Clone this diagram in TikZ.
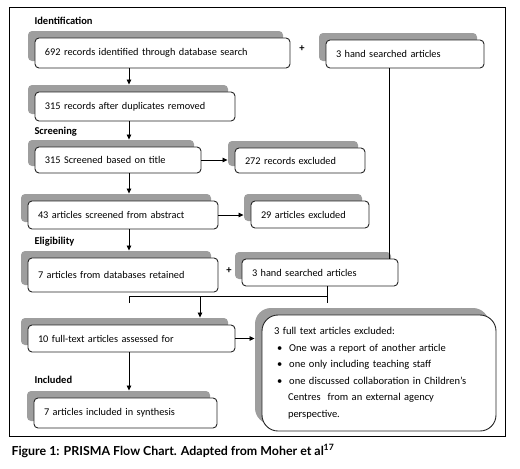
\documentclass[tikz,border=0pt]{standalone}
\usepackage{fontspec}
\setmainfont{Carlito}
\newfontfamily\capfont{Lato}
\usetikzlibrary{arrows.meta,shadows,calc}

\begin{document}
\begin{tikzpicture}[x=1pt, y=-1pt,
  box/.style={draw=black!85, line width=0.9pt, fill=white, rounded corners=4pt,
    inner xsep=10pt, inner ysep=2pt, align=left, font=\fontsize{10.3}{12.6}\selectfont,
    drop shadow={shadow xshift=-7pt, shadow yshift=7pt, fill=black!38, opacity=1}},
  head/.style={anchor=west, font=\fontsize{10.5}{12.6}\selectfont\bfseries},
  plus/.style={font=\fontsize{10.5}{12.6}\selectfont\bfseries},
  arr/.style={-{Triangle[length=5pt,width=4.5pt]}, line width=0.8pt},
  link/.style={line width=0.8pt}]
  \useasboundingbox (0,0) rectangle (520,469);

  % Frame
  \draw[line width=1pt] (9,7) rectangle (505,436);

  % Identification
  \node[head] (idhead) at (31,21) {Identification};
  \node[box, text width=235pt, minimum height=30pt] (search) at (162.5,53) {692 records identified through database search};
  \node[plus] (plusA) at (302,49) {+};
  \node[box, text width=138pt, minimum height=28pt] (handA) at (405,54) {3 hand searched articles};
  \node[box, text width=180pt, minimum height=29pt] (dupl) at (135,106.5) {315 records after duplicates removed};

  % Screening
  \node[head] (scrhead) at (31,132) {Screening};
  \node[box, text width=146pt, minimum height=26pt] (title) at (118,160) {315 Screened based on title};
  \node[box, text width=110pt, minimum height=25pt] (exclA) at (300,160.5) {272 records excluded};
  \node[box, text width=170pt, minimum height=28pt] (abstract) at (123,215) {43 articles screened from abstract};
  \node[box, text width=98pt, minimum height=27pt] (exclB) at (310,214.5) {29 articles excluded};

  % Eligibility
  \node[head] (elihead) at (31,242) {Eligibility};
  \node[box, text width=170pt, minimum height=34pt] (retained) at (123,275) {7 articles from databases retained};
  \node[plus] (plusB) at (229,271) {+};
  \node[box, text width=136pt, minimum height=27pt] (handB) at (320,272.5) {3 hand searched articles};
  \node[box, text width=187pt, minimum height=27pt] (fulltext) at (131.5,338.5) {10 full-text articles assessed for};
  \node[box, rounded corners=16pt, inner xsep=12pt, text width=210pt, minimum height=116pt,
    font=\fontsize{10.5}{16.5}\selectfont] (reasons) at (379,373)
    {3 full text articles excluded:\\
     \hspace*{3pt}\textbullet\hspace{7pt}One was a report of another article\\
     \hspace*{3pt}\textbullet\hspace{7pt}one only including teaching staff\\
     \hspace*{3pt}\textbullet\hspace{7pt}one discussed collaboration in Children’s\\
     \hspace*{14pt}Centres \ from an external agency\\
     \hspace*{14pt}perspective.};

  % Included
  \node[head] (inchead) at (31,380) {Included};
  \node[box, text width=163pt, minimum height=30pt] (synth) at (125.5,413) {7 articles included in synthesis};

  % Caption
  \node[anchor=west, font=\capfont\bfseries\fontsize{12.4}{14}\selectfont] (caption) at (8,451)
    {Figure 1: PRISMA Flow Chart. Adapted from Moher et al\textsuperscript{17}};

  % Connectors
  \coordinate (spine) at (129,0);
  \coordinate (riser) at (389,0);
  \coordinate (mergeL) at (129,296);
  \coordinate (mergeR) at (327,296);
  \coordinate (merge) at (200,296);

  \draw[arr] (search.south -| spine) -- ($(dupl.north -| spine)+(0,-7)$);
  \draw[arr] (dupl.south -| spine) -- ($(title.north -| spine)+(0,-7)$);
  \draw[arr] (title.east) -- ($(exclA.west |- title.east)+(-7,0)$);
  \draw[arr] (title.south -| spine) -- ($(abstract.north -| spine)+(0,-7)$);
  \draw[arr] (abstract.east) -- ($(exclB.west |- abstract.east)+(-7,0)$);
  \draw[arr] (abstract.south -| spine) -- ($(retained.north -| spine)+(0,-7)$);
  \draw[link] (handA.south -| riser) -- (handB.north -| riser);
  \draw[link] ($(mergeL)+(0,7)$) -- (mergeL) -- (mergeR) -- ($(mergeR)+(0,7)$);
  \draw[link] (handB.south -| mergeR) -- (mergeR);
  \draw[arr] (merge) -- ($(fulltext.north -| merge)+(0,-7)$);
  \draw[arr] (fulltext.east) -- ($(reasons.west |- fulltext.east)+(-7,0)$);
  \draw[arr] (fulltext.south -| spine) -- ($(synth.north -| spine)+(0,-7)$);
\end{tikzpicture}
\end{document}
